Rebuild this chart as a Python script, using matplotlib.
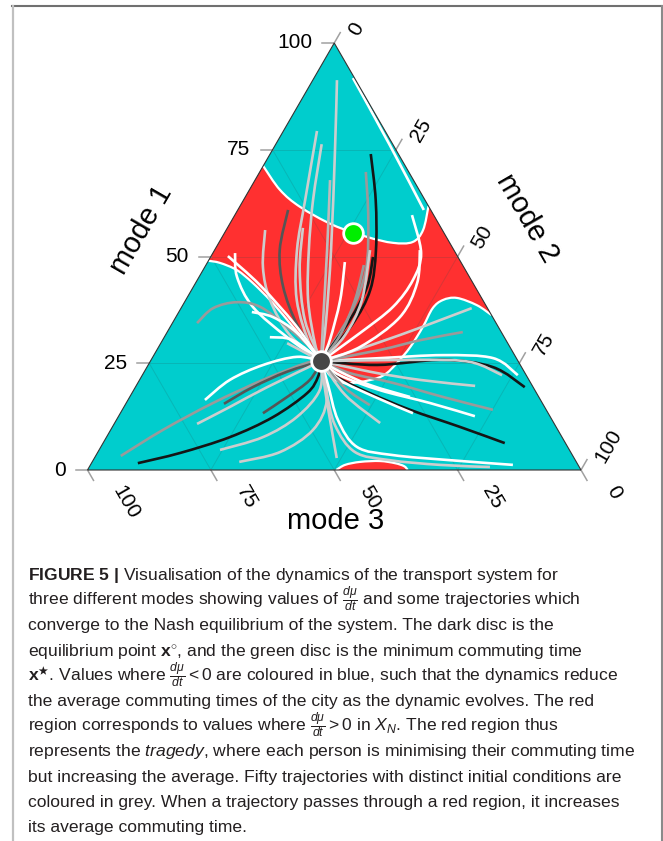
import numpy as np
import matplotlib
matplotlib.use("Agg")
import matplotlib.pyplot as plt
from matplotlib.path import Path
from matplotlib.patches import PathPatch, Polygon
from matplotlib.lines import Line2D

plt.rcParams['font.family'] = ['Liberation Sans', 'DejaVu Sans']
plt.rcParams['mathtext.fontset'] = 'custom'
plt.rcParams['mathtext.rm'] = 'Liberation Sans'
plt.rcParams['mathtext.it'] = 'Liberation Sans:italic'
plt.rcParams['mathtext.bf'] = 'Liberation Sans:bold'

TEAL = '#00CDCD'
RED = '#FF3030'
W, L, G, D, K = 'white', '#cdcdcd', '#9a9a9a', '#555555', '#151515'

# all points are (mode 1 %, mode 2 %); mode 3 = 100 - mode 1 - mode 2
x_eq = (25.5, 34.6)     # equilibrium (dark disc)
x_min = (55.5, 26.0)    # minimum commuting time (green disc)

# boundaries of the regions where du/dt > 0
red_left = [(49.0, 0), (48.5, 2.6), (46.8, 6.9), (43.8, 11.6), (39.1, 18.0),
            (33.5, 24.9), (28.1, 31.6), (25.5, 34.6)]
red_lower = [(25.5, 34.6), (22.2, 38.0), (20.4, 41.6), (20.6, 44.9), (21.5, 47.9),
             (22.7, 49.3), (25.1, 50.2), (28.8, 51.0), (33.5, 51.2), (37.9, 51.0),
             (39.8, 52.1), (40.3, 54.7), (38.6, 59.6), (36.3, 63.7)]
red_upper = [(61.8, 38.2), (56.2, 39.9), (53.4, 39.2), (53.2, 35.3), (54.6, 29.3),
             (57.4, 21.0), (61.6, 12.3), (65.6, 6.2), (71.2, 0)]
red_bump = [(0, 50.4), (1.2, 51.6), (1.9, 54.3), (2.1, 58.2), (1.6, 61.5),
            (0.9, 63.7), (0, 64.9)]

# trajectories (all end in x_eq)
traj_colors = [L, L, L, '#bbbbbb', K, G, W, D, L, W, K, G, L, W,
               G, W, W, W, L, W, G, D, L, D, K, L, L,
               L, W, L,
               K, G, W, W, L, K, W, L, G, L, W, L, W, G, L]
trajectories = [
    [(91.3, 4.9), (74.9, 12.7), (51.5, 23.6), (35.1, 30.8)],
    [(79.4, 6.8), (63.2, 12.5), (51.5, 16.7), (39.8, 22.5), (29.3, 30.4)],
    [(76.3, 9.3), (63.2, 14.1), (51.5, 19.1), (39.8, 24.8), (29.3, 31.5)],
    [(67.9, 15.2), (51.5, 22.8), (35.1, 30.2)],
    [(74.0, 20.4), (63.2, 26.8), (51.5, 32.7), (42.2, 36.2), (34.0, 36.6)],
    [(69.8, 21.5), (58.6, 27.6), (46.8, 33.0), (36.3, 35.0)],
    [(59.7, 35.9), (50.8, 42.2), (44.5, 43.7), (38.2, 42.8), (32.1, 39.2)],
    [(60.9, 10.2), (51.5, 13.2), (42.9, 18.2), (34.0, 25.5)],
    [(56.2, 7.9), (47.5, 11.8), (39.8, 17.1), (31.6, 25.2)],
    [(50.8, 4.5), (45.2, 7.7), (38.2, 14.4), (31.1, 24.9)],
    [(49.9, 32.9), (42.9, 35.2), (35.1, 35.6)],
    [(48.0, 32.0), (39.8, 34.3), (31.6, 35.4)],
    [(56.7, 15.3), (46.8, 19.6), (35.1, 26.5)],
    [(48.7, 27.8), (39.8, 31.3), (30.4, 33.9)],
    [(34.4, 5.0), (37.9, 6.5), (39.3, 10.6), (38.2, 15.9), (33.5, 23.7), (28.1, 31.6)],
    [(37.0, 14.8), (35.8, 19.7), (32.1, 26.4)],
    [(31.1, 21.4), (30.4, 26.4)],
    [(50.1, 3.4), (43.3, 13.3), (34.0, 25.1)],
    [(29.7, 25.6)],
    [(16.4, 15.6), (21.1, 18.3), (24.6, 23.3), (26.5, 29.2)],
    [(3.3, 5.1), (9.4, 10.6), (15.7, 17.6), (21.1, 25.0), (25.1, 31.9)],
    [(15.5, 19.9), (19.4, 23.8), (23.0, 28.9)],
    [(10.8, 16.8), (14.8, 21.5), (19.4, 26.7)],
    [(13.3, 28.9), (17.1, 31.9), (21.1, 34.5)],
    [(1.6, 9.4), (4.0, 16.8), (7.7, 25.0), (12.4, 31.4), (18.0, 35.5), (21.8, 35.8)],
    [(4.7, 24.5), (7.7, 31.7), (12.4, 36.2), (18.7, 37.7)],
    [(1.9, 29.8), (4.2, 36.9), (9.4, 41.0), (16.4, 40.3)],
    [(2.8, 49.1), (11.7, 43.3), (18.7, 38.8)],
    [(1.2, 85.6), (2.3, 72.3), (3.5, 60.1), (5.4, 51.9), (11.7, 44.9), (19.9, 38.8)],
    [(0.7, 81.2), (1.2, 70.8), (2.3, 60.1), (4.2, 52.1), (10.5, 44.9), (18.7, 39.0)],
    [(6.3, 81.4), (10.1, 70.4), (14.1, 58.3), (18.0, 48.2), (21.8, 39.7)],
    [(14.1, 75.1), (17.1, 63.5), (20.4, 51.7), (22.7, 41.8)],
    [(12.6, 72.2), (15.7, 61.5), (18.7, 49.9), (22.2, 40.0)],
    [(17.1, 56.8), (19.9, 47.3), (23.0, 39.7)],
    [(19.7, 68.7), (21.1, 56.8), (23.0, 45.8)],
    [(19.4, 78.9), (24.1, 70.1), (25.8, 59.2), (24.6, 46.4)],
    [(22.2, 76.1), (26.2, 69.1), (26.9, 58.6), (26.2, 46.2)],
    [(22.2, 72.9), (25.3, 64.9), (25.8, 54.5)],
    [(32.3, 59.9), (30.4, 52.2), (28.1, 45.2)],
    [(37.9, 58.9), (35.1, 53.9), (31.6, 47.5), (27.6, 39.4)],
    [(51.5, 41.6), (43.8, 44.9), (35.8, 45.4), (28.8, 40.8)],
    [(51.5, 31.5), (39.8, 35.7), (31.6, 36.4)],
    [(13.3, 59.3), (17.1, 49.7), (21.1, 40.6)],
    [(15.2, 49.6), (19.2, 42.6)],
    [(11.0, 53.8), (17.6, 43.4)],
]
# one white trajectory running along the mode-2 edge near the top
edge_run = [(91.8, 7.9), (76.1, 23.2), (60.9, 37.7)]

ticks = [0, 25, 50, 75, 100]

H = np.sqrt(3) / 2


def tern(m1, m2):
    return np.array([(m2 + m1 / 2) / 100, m1 / 100 * H])


def curve(pts):
    # smooth path through the points (Catmull-Rom as cubic Bezier)
    p = np.array([tern(*q) for q in pts])
    n = len(p)
    verts = [p[0]]
    codes = [Path.MOVETO]
    for i in range(n - 1):
        p0 = p[i - 1] if i > 0 else p[i]
        p3 = p[i + 2] if i + 2 < n else p[i + 1]
        verts += [p[i] + (p[i + 1] - p0) / 6, p[i + 1] - (p3 - p[i]) / 6, p[i + 1]]
        codes += [Path.CURVE4] * 3
    return verts, codes


fig = plt.figure(figsize=(6.63, 8.41), dpi=100)
ax = fig.add_axes([87.5 / 663, 371 / 841, 493.5 / 663, 427 / 841])
ax.set_xlim(0, 1)
ax.set_ylim(0, H)
ax.axis('off')

corners = [tern(0, 0), tern(0, 100), tern(100, 0)]
ax.add_patch(Polygon(corners, closed=True, facecolor=TEAL, edgecolor='none', zorder=1))

# main red region
verts = [tern(71.2, 0)]
codes = [Path.MOVETO]
for part in (red_left, red_lower, red_upper):
    v, c = curve(part)
    c[0] = Path.LINETO
    verts += v
    codes += c
verts.append(verts[0])
codes.append(Path.CLOSEPOLY)
ax.add_patch(PathPatch(Path(verts, codes), facecolor=RED, edgecolor='none', zorder=2))
v, c = curve(red_bump)
ax.add_patch(PathPatch(Path(v + [v[0]], c + [Path.CLOSEPOLY]),
                       facecolor=RED, edgecolor='none', zorder=2))

# grid
for g in [25, 50, 75]:
    for a, b in [((g, 0), (g, 100 - g)), ((0, g), (100 - g, g)), ((0, 100 - g), (100 - g, 0))]:
        pa, pb = tern(*a), tern(*b)
        ax.plot([pa[0], pb[0]], [pa[1], pb[1]], color='#2a5050', alpha=0.18, lw=0.7, zorder=3)

# boundaries
for part in (red_left, red_lower, red_upper, red_bump):
    v, c = curve(part)
    ax.add_patch(PathPatch(Path(v, c), facecolor='none', edgecolor='white', lw=1.6, zorder=4))

# trajectories
for col, pts in zip(traj_colors, trajectories):
    v, c = curve(pts + [x_eq])
    ax.add_patch(PathPatch(Path(v, c), facecolor='none', edgecolor=col, lw=1.9,
                           capstyle='butt', zorder=5))
v, c = curve(edge_run)
ax.add_patch(PathPatch(Path(v, c), facecolor='none', edgecolor=W, lw=1.9, zorder=5))

ax.add_patch(Polygon(corners, closed=True, facecolor='none', edgecolor='#333333',
                     lw=0.8, zorder=6, clip_on=False))

eq = tern(*x_eq)
mn = tern(*x_min)
ax.scatter([eq[0]], [eq[1]], s=200, color='#454545', edgecolor='white', lw=2, zorder=7)
ax.scatter([mn[0]], [mn[1]], s=200, color='#00EE00', edgecolor='white', lw=2, zorder=7)

# ticks and tick labels
tl = 12 / 493.5
for t in ticks:
    p = tern(t, 0)
    ax.plot([p[0], p[0] - tl], [p[1], p[1]], color='#a0a0a0', lw=1.1, clip_on=False)
    ax.annotate(str(t), p, xytext=(-15.8, 0), textcoords='offset points',
                ha='right', va='center', fontsize=15, annotation_clip=False)
    p = tern(100 - t, t)
    ax.plot([p[0], p[0] + tl / 2], [p[1], p[1] + tl * H], color='#a0a0a0', lw=1.1, clip_on=False)
    ax.annotate(str(t), p, xytext=(13.7, 6.5), textcoords='offset points',
                ha='left', va='center', rotation=60, rotation_mode='anchor',
                fontsize=15, annotation_clip=False)
    p = tern(0, 100 - t)
    ax.plot([p[0], p[0] + tl / 2], [p[1], p[1] - tl * H], color='#a0a0a0', lw=1.1, clip_on=False)
    ax.annotate(str(t), p, xytext=(21.2, -12.2), textcoords='offset points',
                ha='left', va='center', rotation=-60, rotation_mode='anchor',
                fontsize=15, annotation_clip=False)

fig.text(141 / 663, 1 - 230 / 841, 'mode 1', rotation=60, ha='center', va='center', fontsize=21)
fig.text(527 / 663, 1 - 218 / 841, 'mode 2', rotation=-60, ha='center', va='center', fontsize=21)
fig.text(336 / 663, 1 - 521 / 841, 'mode 3', ha='center', va='center', fontsize=21)

# frame
fig.add_artist(Line2D([12 / 663, 662 / 663], [1 - 6 / 841] * 2, color='#707070', lw=1.5))
fig.add_artist(Line2D([662 / 663] * 2, [1 - 6 / 841, 0], color='#8a8a8a', lw=1.5))
fig.add_artist(Line2D([13 / 663] * 2, [1 - 6 / 841, 0], color='#c0c0c0', lw=1.6))

caption = [
    r"$\mathbf{FIGURE\ 5\ |}$ Visualisation of the dynamics of the transport system for",
    r"three different modes showing values of $\frac{d\mu}{dt}$ and some trajectories which",
    "converge to the Nash equilibrium of the system. The dark disc is the",
    r"equilibrium point $\mathbf{x}^{\circ}$, and the green disc is the minimum commuting time",
    r"$\mathbf{x}^{\bigstar}$. Values where $\frac{d\mu}{dt} < 0$ are coloured in blue, such that the dynamics reduce",
    "the average commuting times of the city as the dynamic evolves. The red",
    r"region corresponds to values where $\frac{d\mu}{dt} > 0$ in $X_N$. The red region thus",
    r"represents the $\mathit{tragedy}$, where each person is minimising their commuting time",
    "but increasing the average. Fifty trajectories with distinct initial conditions are",
    "coloured in grey. When a trajectory passes through a red region, it increases",
    "its average commuting time.",
]
cap_texts = []
for i, line in enumerate(caption):
    cap_texts.append(fig.text(28 / 663, 1 - (580 + 25.2 * i) / 841, line, ha='left',
                              va='baseline', fontsize=13, color='#231f20'))
# shrink the caption so its longest line spans the same width as the reference
fig.canvas.draw()
r = fig.canvas.get_renderer()
wmax = max(t.get_window_extent(r).width for t in cap_texts)
for t in cap_texts:
    t.set_fontsize(13 * 604 / wmax)

fig.savefig('out.png', dpi=100)
